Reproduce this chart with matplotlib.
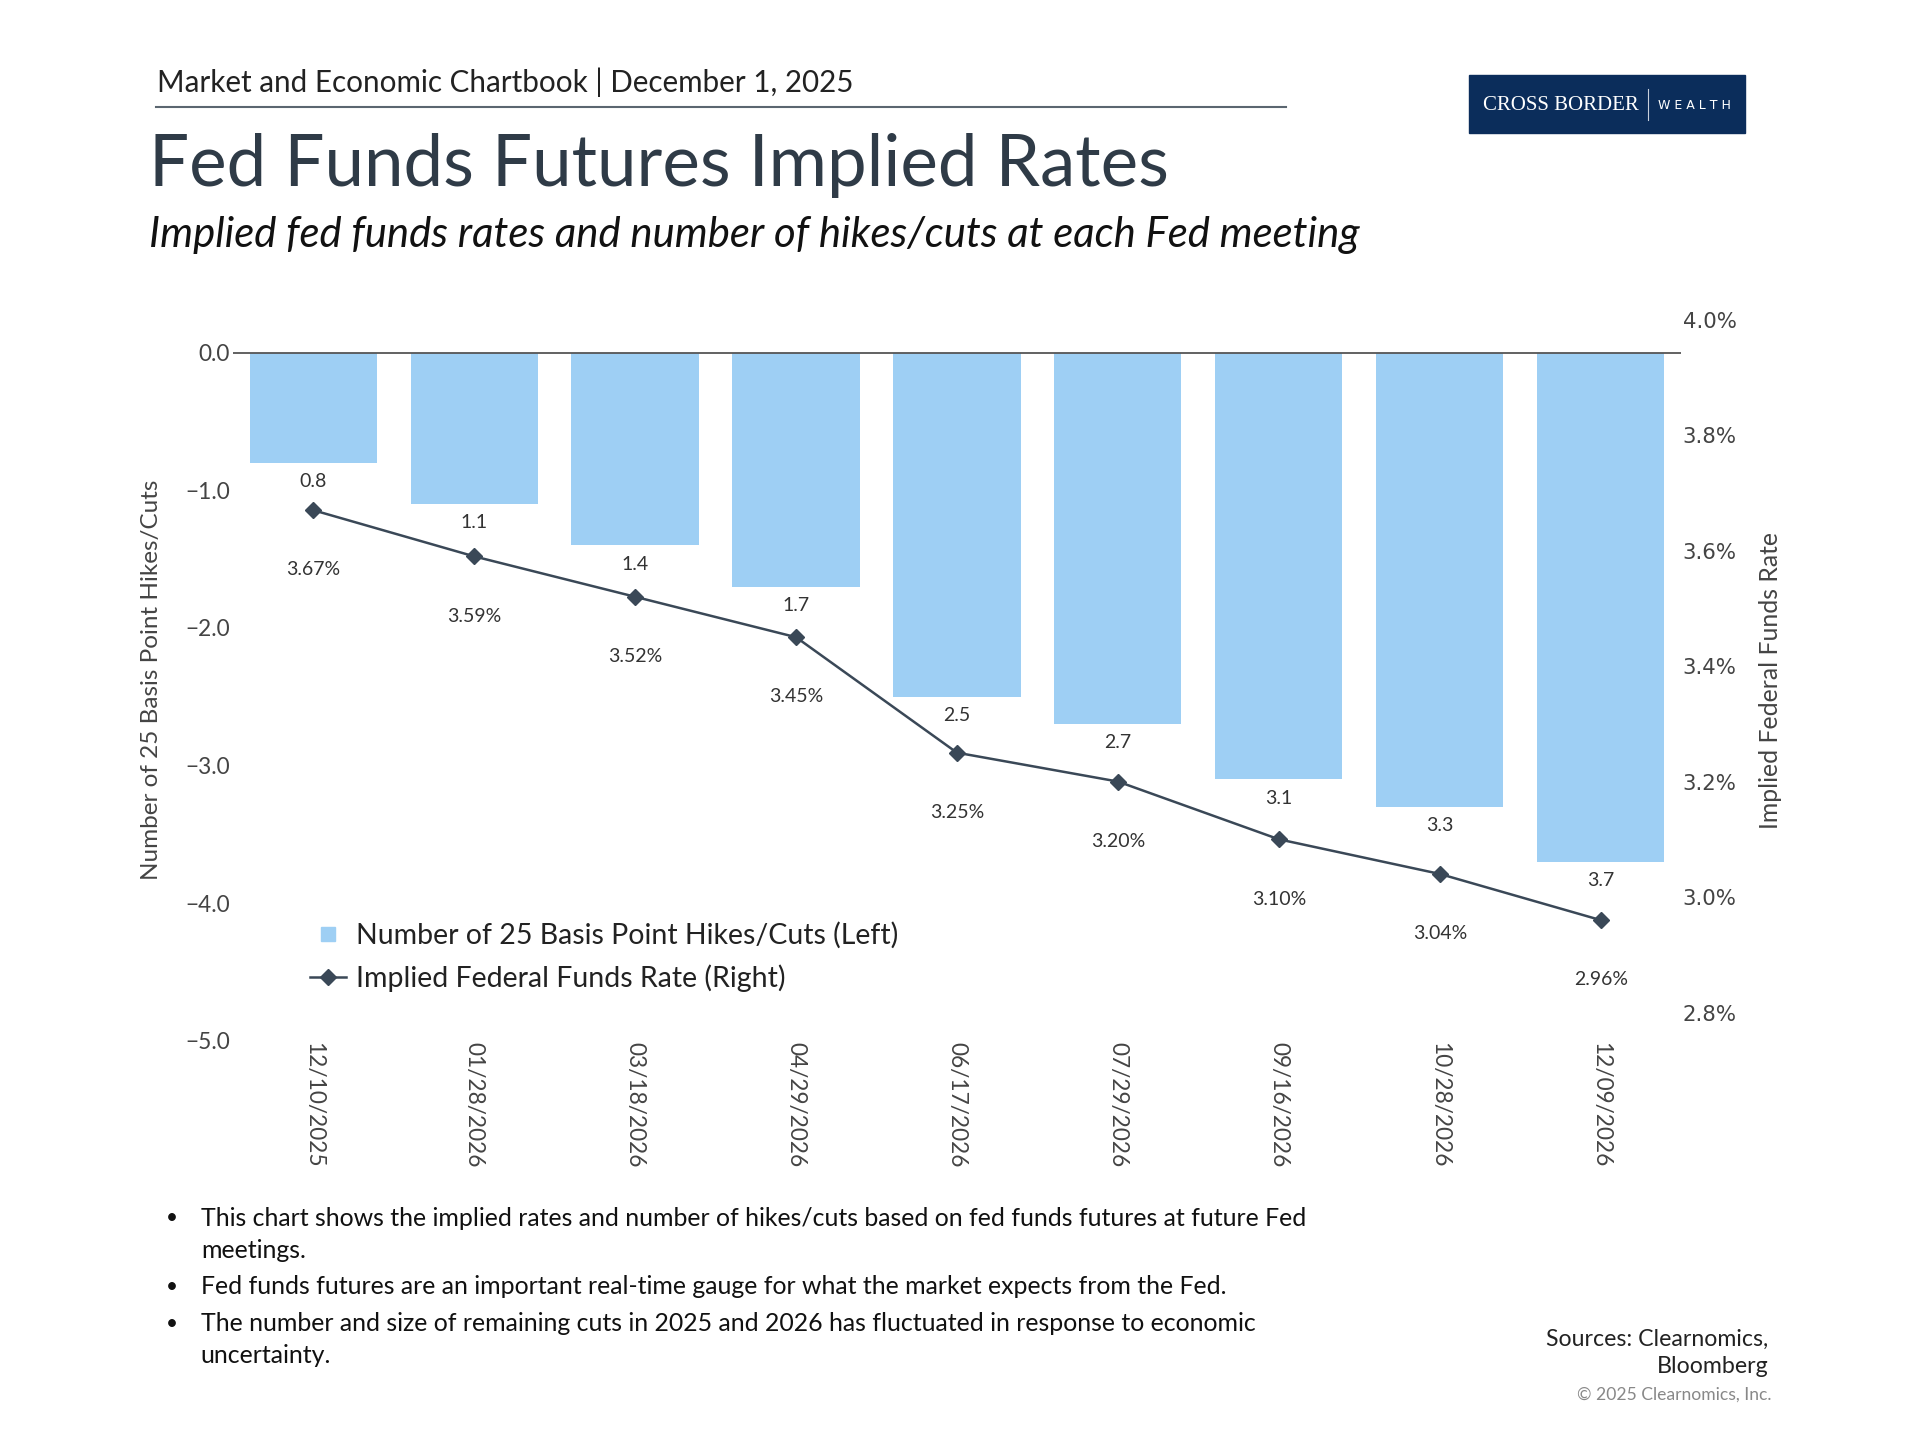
import matplotlib
matplotlib.use("Agg")
import matplotlib.pyplot as plt
from matplotlib.patches import Rectangle
from matplotlib.lines import Line2D
from matplotlib.ticker import FuncFormatter

# data
meetings = ["12/10/2025", "01/28/2026", "03/18/2026", "04/29/2026", "06/17/2026",
            "07/29/2026", "09/16/2026", "10/28/2026", "12/09/2026"]
cuts = [-0.8, -1.1, -1.4, -1.7, -2.5, -2.7, -3.1, -3.3, -3.7]
rates = [3.67, 3.59, 3.52, 3.45, 3.25, 3.20, 3.10, 3.04, 2.96]

bullets = [
    ["This chart shows the implied rates and number of hikes/cuts based on fed funds futures at future Fed",
     "meetings."],
    ["Fed funds futures are an important real-time gauge for what the market expects from the Fed."],
    ["The number and size of remaining cuts in 2025 and 2026 has fluctuated in response to economic",
     "uncertainty."],
]

BLUE = "#9ecff4"
LINE = "#3a4857"
TXT = "#333333"

# layout in reference units (1568 x 1176)
W, H = 1568, 1176
def fx(v): return v / W
def fy(v): return 1 - v / H

plt.rcParams['font.family'] = ['Lato', 'DejaVu Sans']
fig = plt.figure(figsize=(19.2, 14.4), dpi=100)

# header
fig.text(fx(128), fy(67), "Market and Economic Chartbook | December 1, 2025",
         fontsize=21.3, color="#222222", va="center", ha="left")
fig.add_artist(Line2D([fx(127), fx(1050)], [fy(87), fy(87)], color="#5b6670", lw=1.5))
fig.text(fx(122), fy(135), "Fed Funds Futures Implied Rates",
         fontsize=51, color="#2f3b47", va="center", ha="left")
fig.text(fx(122), fy(192), "Implied fed funds rates and number of hikes/cuts at each Fed meeting",
         fontsize=30.2, style="italic", color="#111111", va="center", ha="left")

# logo
fig.add_artist(Rectangle((fx(1200), fy(109)), fx(1425) - fx(1200), fy(61) - fy(109),
                         color="#0b2d5b", transform=fig.transFigure))
fig.text(fx(1275), fy(86), "CROSS BORDER", family="Liberation Serif", fontsize=15,
         color="white", va="center", ha="center")
fig.add_artist(Line2D([fx(1346), fx(1346)], [fy(73), fy(98)], color="#c8d0dc", lw=0.8))
fig.text(fx(1384), fy(86), "W E A L T H", family="DejaVu Sans", fontsize=9,
         color="white", va="center", ha="center")

# main axes
ax = fig.add_axes([fx(190), fy(850), fx(1373) - fx(190), fy(261) - fy(850)])
x = list(range(len(meetings)))
ax.bar(x, cuts, width=0.79, color=BLUE, zorder=2)
ax.axhline(0, color="#555555", lw=1.3, zorder=3)
ax.set_xlim(-0.5, len(meetings) - 0.5)
ax.set_ylim(-5.0, 0.24)
ax.set_yticks([0, -1, -2, -3, -4, -5])
ax.yaxis.set_major_formatter(FuncFormatter(lambda v, _: f"{v:.1f}".replace("-", "\u2212")))
ax.set_xticks(x)
ax.set_xticklabels(meetings, rotation=-90, va="top", ha="center")
ax.tick_params(axis="both", length=0, labelsize=16.3, labelcolor="#444444")
ax.tick_params(axis="x", pad=1)
ax.tick_params(axis="y", pad=2)
for s in ax.spines.values():
    s.set_visible(False)
ax.set_ylabel("Number of 25 Basis Point Hikes/Cuts", fontsize=17.5, color="#444444", labelpad=17)

for xi, v in zip(x, cuts):
    ax.annotate(f"{abs(v):.1f}", (xi, v), xytext=(0, -13.5), textcoords="offset points",
                ha="center", va="center", fontsize=14, color=TXT, zorder=4)

ax2 = ax.twinx()
ax2.plot(x, rates, color=LINE, lw=1.8, marker="D", markersize=8)
ax2.set_ylim(2.751, 4.0)
ax2.set_yticks([2.8, 3.0, 3.2, 3.4, 3.6, 3.8, 4.0])
ax2.yaxis.set_major_formatter(FuncFormatter(lambda v, _: f"{v:.1f}%"))
ax2.tick_params(axis="y", length=0, pad=1, labelcolor="#444444")
for lab in ax2.get_yticklabels():
    lab.set_family("DejaVu Sans")
    lab.set_fontsize(15.3)
for s in ax2.spines.values():
    s.set_visible(False)
ax2.set_ylabel("Implied Federal Funds Rate", fontsize=17.8, color="#444444", labelpad=16)

for xi, r in zip(x, rates):
    ax2.annotate(f"{r:.2f}%", (xi, r), xytext=(0, -43), textcoords="offset points",
                 ha="center", va="center", fontsize=14, color=TXT)

handles = [
    Line2D([], [], marker="s", color=BLUE, linestyle="none", markersize=10),
    Line2D([], [], marker="D", color=LINE, lw=1.8, markersize=8),
]
labels = ["Number of 25 Basis Point Hikes/Cuts (Left)", "Implied Federal Funds Rate (Right)"]
ax2.legend(handles, labels, loc="upper left", bbox_to_anchor=(fx(232), fy(732)),
           bbox_transform=fig.transFigure, frameon=False, fontsize=20.5,
           handlelength=1.29, handletextpad=0.34, labelspacing=0.55, labelcolor="#222222")

# bullets
line_y = [[995, 1021], [1051], [1081, 1107]]
for lines, ys in zip(bullets, line_y):
    fig.text(fx(140), fy(ys[0]), "\u2022", fontsize=15, color="#111111", va="center", ha="center")
    for txt, yl in zip(lines, ys):
        fig.text(fx(164), fy(yl), txt, fontsize=17.9, color="#111111", va="center", ha="left")

fig.text(fx(1444), fy(1094), "Sources: Clearnomics,", fontsize=16.7,
         color="#222222", ha="right", va="center")
fig.text(fx(1444), fy(1116), "Bloomberg", fontsize=16.7,
         color="#222222", ha="right", va="center")
fig.text(fx(1447), fy(1139), "\u00a9 2025 Clearnomics, Inc.", fontsize=12.6,
         color="#888888", ha="right", va="center")

fig.savefig("out.png", dpi=100)
